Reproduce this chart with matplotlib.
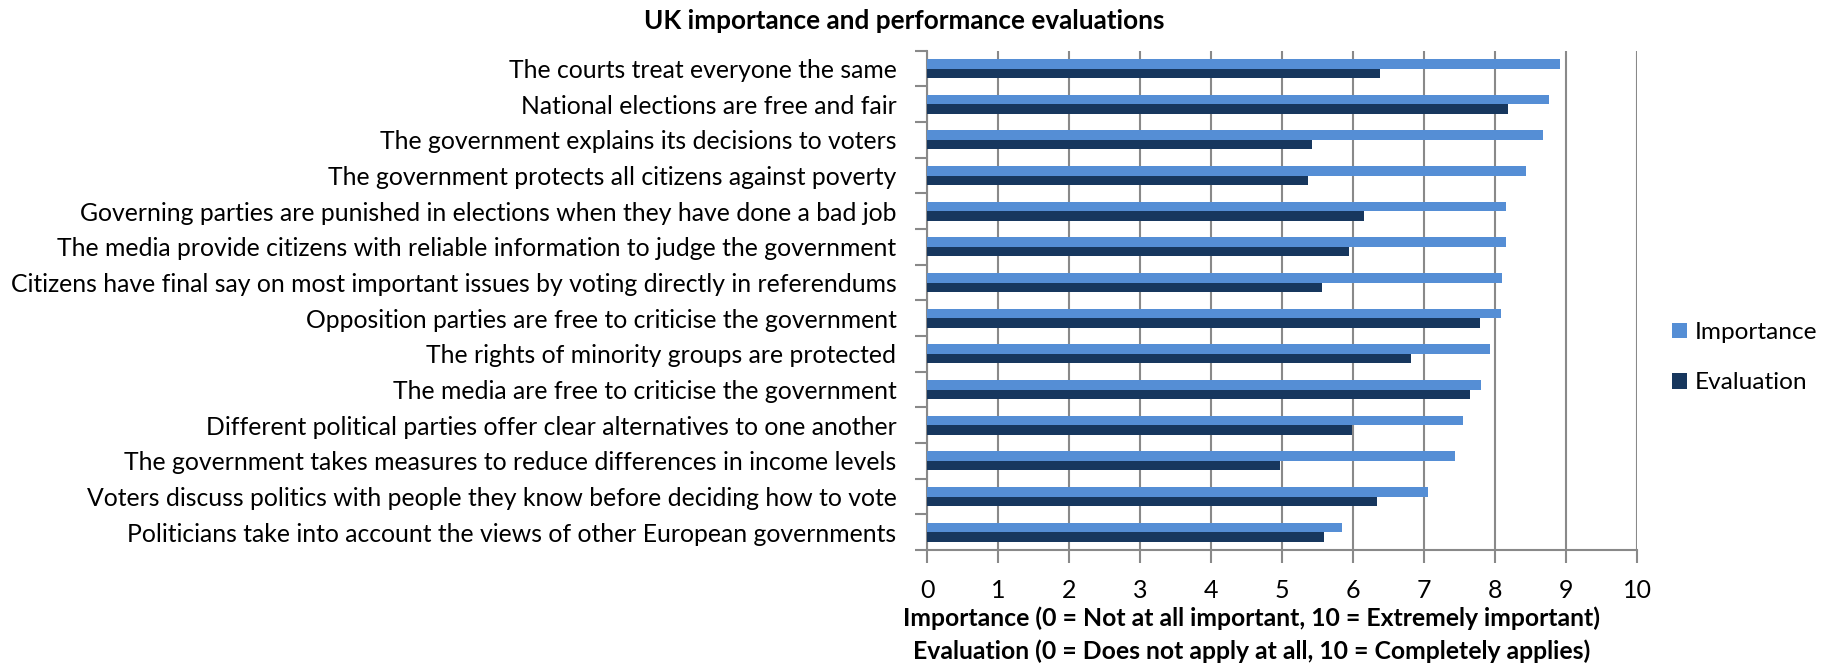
import matplotlib

matplotlib.use("Agg")
import matplotlib.pyplot as plt
import numpy as np

# Survey items, top to bottom
items = [
    "The courts treat everyone the same",
    "National elections are free and fair",
    "The government explains its decisions to voters",
    "The government protects all citizens against poverty",
    "Governing parties are punished in elections when they have done a bad job",
    "The media provide citizens with reliable information to judge the government",
    "Citizens have final say on most important issues by voting directly in referendums",
    "Opposition parties are free to criticise the government",
    "The rights of minority groups are protected",
    "The media are free to criticise the government",
    "Different political parties offer clear alternatives to one another",
    "The government takes measures to reduce differences in income levels",
    "Voters discuss politics with people they know before deciding how to vote",
    "Politicians take into account the views of other European governments",
]
importance = [8.91, 8.76, 8.68, 8.43, 8.16, 8.15, 8.10, 8.08, 7.93, 7.80, 7.55, 7.43, 7.06, 5.84]
evaluation = [6.38, 8.18, 5.42, 5.36, 6.15, 5.94, 5.56, 7.79, 6.82, 7.65, 5.98, 4.97, 6.34, 5.59]

IMP_COLOR = "#558ED5"
EVAL_COLOR = "#17375E"
GRID_COLOR = "#898989"

plt.rcParams["font.family"] = ["Lato", "DejaVu Sans"]

fig = plt.figure(figsize=(18.27, 6.65), dpi=100)
ax = fig.add_axes([0.5074, 0.1729, 0.3886, 0.7509])

y = np.arange(len(items))
h = 0.27
ax.barh(y - h / 2, importance, height=h, color=IMP_COLOR, label="Importance", zorder=3)
ax.barh(y + h / 2, evaluation, height=h, color=EVAL_COLOR, label="Evaluation", zorder=3)

ax.set_xlim(0, 10)
ax.set_ylim(len(items) - 0.5, -0.5)
ax.set_xticks(range(11))
ax.tick_params(axis="x", length=9, width=1.5, color=GRID_COLOR, labelsize=18, pad=12)

ax.set_yticks(y)
ax.set_yticklabels(items, fontsize=17.8)
ax.tick_params(axis="y", which="major", length=0, pad=22)
ax.set_yticks(np.arange(-0.5, len(items), 1.0), minor=True)
ax.tick_params(axis="y", which="minor", length=9, width=1.5, color=GRID_COLOR)

ax.grid(axis="x", color=GRID_COLOR, linewidth=1.5, zorder=0)
for side in ("top", "right"):
    ax.spines[side].set_visible(False)
for side in ("left", "bottom"):
    ax.spines[side].set_color(GRID_COLOR)
    ax.spines[side].set_linewidth(1.5)

fig.text(0.495, 0.968, "UK importance and performance evaluations",
         ha="center", va="center", fontsize=18.8, fontweight="bold")
fig.text(0.685, 0.071, "Importance (0 = Not at all important, 10 = Extremely important)",
         ha="center", va="center", fontsize=17.8, fontweight="bold")
fig.text(0.685, 0.020, "Evaluation (0 = Does not apply at all, 10 = Completely applies)",
         ha="center", va="center", fontsize=17.8, fontweight="bold")

ax.legend(loc="center left", bbox_to_anchor=(1.032, 0.385), frameon=False,
          fontsize=17.6, borderpad=0, handlelength=0.6, handleheight=0.6,
          handletextpad=0.35, labelspacing=1.2)

fig.savefig("out.png", dpi=100)
